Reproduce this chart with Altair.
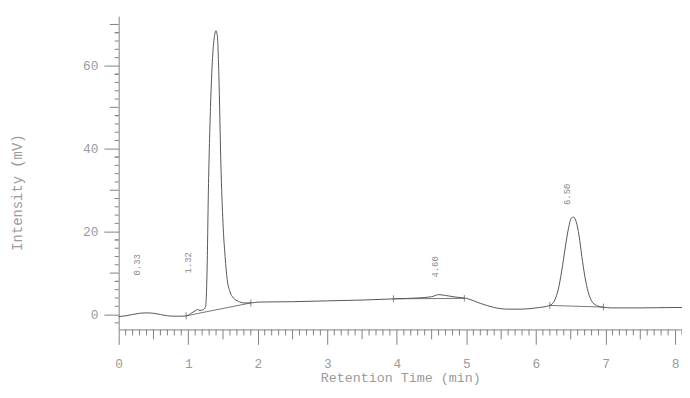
import altair as alt
import pandas as pd

# Chromatogram trace (time in min, intensity in mV)
trace_t = [0.0, 0.1, 0.2, 0.3, 0.4, 0.5, 0.6, 0.7, 0.8, 0.9, 0.98, 1.05, 1.1, 1.13, 1.17, 1.22,
           1.25, 1.27, 1.29, 1.32, 1.35, 1.38, 1.40, 1.42, 1.44, 1.47, 1.50, 1.53, 1.56, 1.60,
           1.65, 1.72, 1.8, 1.9, 2.0, 2.5, 3.0, 3.5, 4.0, 4.3, 4.5, 4.6, 4.7, 4.85, 5.0, 5.2,
           5.4, 5.6, 5.8, 6.0, 6.2, 6.27, 6.32, 6.37, 6.42, 6.47, 6.51, 6.54, 6.58, 6.62, 6.66,
           6.70, 6.75, 6.80, 6.87, 6.95, 7.1, 7.5, 8.0, 8.1]
trace_v = [-0.5, -0.3, 0.0, 0.3, 0.4, 0.3, 0.0, -0.3, -0.4, -0.4, -0.3, 0.4, 0.9, 1.2, 1.0, 1.2,
           2.0, 10.0, 30.0, 50.0, 62.0, 67.5, 68.5, 67.0, 58.0, 36.0, 22.0, 14.0, 8.5, 5.5,
           4.0, 3.2, 2.8, 2.8, 3.0, 3.1, 3.3, 3.5, 3.8, 4.0, 4.3, 4.8, 4.6, 4.2, 3.9, 2.7,
           1.7, 1.3, 1.3, 1.6, 2.2, 3.5, 6.0, 10.5, 16.0, 21.0, 23.3, 23.5, 22.3, 19.0, 14.0,
           9.5, 5.5, 3.3, 2.2, 1.8, 1.6, 1.6, 1.7, 1.7]

# Integration baselines drawn under the peaks
base_id = ["a", "a", "b", "b", "c", "c"]
base_t = [0.97, 1.9, 3.95, 4.97, 6.2, 6.97]
base_v = [-0.3, 2.8, 3.8, 3.9, 2.2, 1.8]

# Peak labels
peak_t = [0.26, 1.0, 4.55, 6.45]
peak_v = [12.0, 12.5, 11.5, 29.0]
peak_text = ["0.33", "1.32", "4.60", "6.50"]

# Axis ticks
x_major = [0, 1, 2, 3, 4, 5, 6, 7, 8]
x_mid = [0.5, 1.5, 2.5, 3.5, 4.5, 5.5, 6.5, 7.5]
x_minor = [0.1, 0.2, 0.3, 0.4, 0.6, 0.7, 0.8, 0.9]
y_major = [0, 20, 40, 60]
y_mid = [10, 30, 50, 70]
y_minor = [-2, 2, 4, 6, 8]

W, H = 570, 317
FONT = "Liberation Mono"
AX = "#808080"
TXT = "#9a9a9a"
LINE = "#555555"

trace = pd.DataFrame({"t": trace_t, "v": trace_v})
base = pd.DataFrame({"id": base_id, "t": base_t, "v": base_v})
peaks = pd.DataFrame({"t": peak_t, "v": peak_v, "label": peak_text})
xmid = pd.DataFrame({"t": x_mid})
xmin = pd.DataFrame({"t": [round(k + m, 1) for k in range(0, 9) for m in x_minor if k + m <= 8.1]})
ymid = pd.DataFrame({"v": y_mid})
ymin = pd.DataFrame({"v": [k + m for k in range(0, 80, 10) for m in y_minor if -3 < k + m < 72 and (k + m) % 10 != 0]})

xs = alt.Scale(domain=[0, 8.1], nice=False, zero=False)
ys = alt.Scale(domain=[-3.6, 72], nice=False, zero=False)

x_axis = alt.Axis(
    title="Retention Time (min)", values=x_major, grid=False, format="d",
    tickSize=15, tickColor=AX, tickWidth=1, domainColor=AX, labelFlush=False,
    labelFont=FONT, labelFontSize=13, labelColor=TXT, labelPadding=13,
    titleFont=FONT, titleFontSize=13.5, titleColor=TXT, titleFontWeight="normal", titlePadding=1,
)
y_axis = alt.Axis(
    title="Intensity (mV)", values=y_major, grid=False, format="d",
    tickSize=15, tickColor=AX, tickWidth=1, domainColor=AX, labelFlush=False,
    labelFont=FONT, labelFontSize=13, labelColor=TXT, labelPadding=6,
    titleFont=FONT, titleFontSize=14, titleColor=TXT, titleFontWeight="normal",
    titleX=-95, titleY=178, titleAngle=270,
)

main = alt.Chart(trace).mark_line(color=LINE, strokeWidth=1.0, interpolate="monotone").encode(
    x=alt.X("t:Q", scale=xs, axis=x_axis),
    y=alt.Y("v:Q", scale=ys, axis=y_axis),
)
baselines = alt.Chart(base).mark_line(color=LINE, strokeWidth=0.8).encode(
    x=alt.X("t:Q", scale=xs), y=alt.Y("v:Q", scale=ys), detail="id:N"
)
base_ticks = alt.Chart(base).mark_tick(color=LINE, orient="vertical", size=7, thickness=1).encode(
    x=alt.X("t:Q", scale=xs), y=alt.Y("v:Q", scale=ys)
)
labels = alt.Chart(peaks).mark_text(font=FONT, fontSize=9, color="#888888", angle=270).encode(
    x=alt.X("t:Q", scale=xs), y=alt.Y("v:Q", scale=ys), text="label:N"
)

xt_mid = alt.Chart(xmid).mark_rule(color=AX, strokeWidth=1).encode(
    x=alt.X("t:Q", scale=xs), y=alt.value(H), y2=alt.value(H + 10))
xt_min = alt.Chart(xmin).mark_rule(color=AX, strokeWidth=1).encode(
    x=alt.X("t:Q", scale=xs), y=alt.value(H), y2=alt.value(H + 6))
yt_mid = alt.Chart(ymid).mark_rule(color=AX, strokeWidth=1).encode(
    y=alt.Y("v:Q", scale=ys), x=alt.value(0), x2=alt.value(-9))
yt_min = alt.Chart(ymin).mark_rule(color=AX, strokeWidth=1).encode(
    y=alt.Y("v:Q", scale=ys), x=alt.value(0), x2=alt.value(-4))

chart = alt.layer(main, xt_mid, xt_min, yt_mid, yt_min, baselines, base_ticks, labels).properties(
    width=W, height=H,
    background="white",
    autosize=alt.AutoSizeParams(type="none"),
    padding={"left": 112, "top": 6, "right": 0, "bottom": 60},
).configure_view(stroke="transparent", strokeWidth=0)

chart.save("out.html", embed_options={"renderer": "svg", "actions": False})
